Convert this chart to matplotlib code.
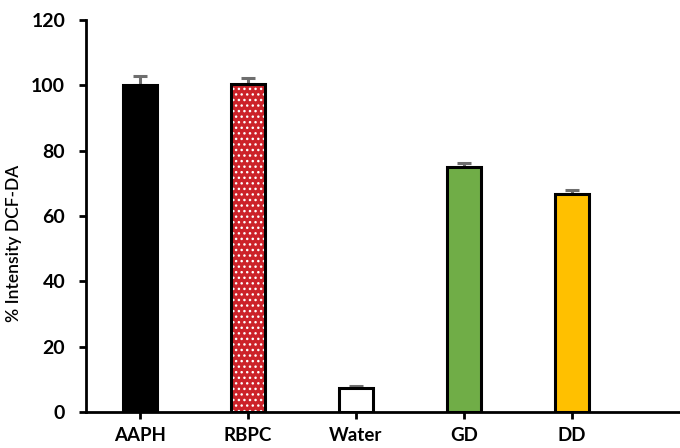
import numpy as np
import matplotlib
matplotlib.use("Agg")
import matplotlib.pyplot as plt

matplotlib.rc('font', family=['Lato', 'DejaVu Sans'])

categories = ["AAPH", "RBPC", "Water", "GD", "DD"]
values = [100.0, 100.5, 7.3, 75.2, 66.8]
errors = [2.8, 1.8, 0.7, 1.0, 1.3]
colors = ['#000000', '#cc2229', '#ffffff', '#70ad47', '#ffc000']
yticks = [0, 20, 40, 60, 80, 100, 120]

fig = plt.figure(figsize=(6.8, 4.48), dpi=100)
ax = fig.add_axes([0.1265, 0.080, 0.8735, 0.875])

ind = np.arange(len(categories))
width = 0.32

# fill first (dotted pattern on red bar), then black outlines on top
for i, (v, c) in enumerate(zip(values, colors)):
    if categories[i] == "RBPC":
        ax.bar(ind[i], v, width=width, color=c, hatch='...', edgecolor='white',
               linewidth=0, zorder=2)
    else:
        ax.bar(ind[i], v, width=width, color=c, linewidth=0, zorder=2)
ax.bar(ind, values, width=width, fill=False, edgecolor='black', linewidth=2.2, zorder=3)

ax.errorbar(ind, values, yerr=[np.zeros(len(errors)), errors], fmt='none',
            ecolor='#6e6e6e', elinewidth=2.2, capsize=5, capthick=2.2, zorder=1)

ax.set_xlim(-0.5, 5.0)
ax.set_ylim(0, 120)
ax.set_yticks(yticks)
ax.set_xticks(ind)
ax.set_xticklabels(categories, fontweight='bold', fontsize=13.5)
for lab in ax.get_yticklabels():
    lab.set_fontweight('bold')
    lab.set_fontsize(14)
ax.set_ylabel("% Intensity DCF-DA", fontsize=12.5, fontweight='semibold')
ax.yaxis.set_label_coords(-0.108, 0.43)

ax.spines['top'].set_visible(False)
ax.spines['right'].set_visible(False)
ax.spines['left'].set_linewidth(2)
ax.spines['bottom'].set_linewidth(2)
ax.tick_params(axis='both', direction='out', width=2, length=5)
ax.tick_params(axis='y', pad=10)
ax.tick_params(axis='x', pad=6)

plt.savefig("out.png", dpi=100)
